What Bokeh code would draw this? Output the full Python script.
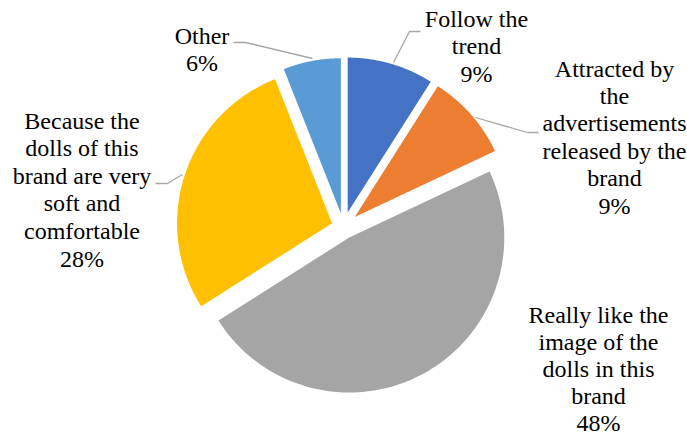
import numpy as np
from bokeh.plotting import figure
from bokeh.models import Range1d, ColumnDataSource
from bokeh.embed import file_html
from bokeh.resources import INLINE

# ---- data ----
categories = [
    "Follow the\ntrend",
    "Attracted by\nthe\nadvertisements\nreleased by the\nbrand",
    "Really like the\nimage of the\ndolls in this\nbrand",
    "Because the\ndolls of this\nbrand are very\nsoft and\ncomfortable",
    "Other",
]
percent_values = [9, 9, 48, 28, 6]
colors = ["#4472C4", "#ED7D31", "#A5A5A5", "#FFC000", "#5B9BD5"]

# ---- layout (pixels) ----
W, H = 687, 436
CX, CY = 343.0, 226.5
R = 155.0
explode = [15, 15, 12, 12, 14]
FONT_A = "Liberation Serif"
FONT_B = "serif"
SHIFT = 8  # renderer places the baseline about this far below the given y

# label anchors: (center x, first baseline y, line step)
label_pos = [(476, 26, 27.6), (614, 76, 27.4), (598, 322, 27.0), (81.5, 128, 27.6), (201.5, 43, 27.4)]
# leader lines
leaders_x = [[393, 409, 420], [475, 527, 538], [], [182, 167, 155], [312, 245, 233]]
leaders_y = [[62, 31, 31], [117, 132, 132], [], [174, 183, 183], [58, 42, 42]]

p = figure(width=W, height=H, output_backend="svg", toolbar_location=None,
           x_range=Range1d(0, W), y_range=Range1d(H, 0), min_border=0)
p.axis.visible = False
p.grid.visible = False
p.outline_line_color = None
p.background_fill_color = "white"
p.border_fill_color = "white"

vals = np.array(percent_values, dtype=float)
fr = vals / vals.sum()
ends = np.cumsum(fr) * 2 * np.pi
starts = ends - fr * 2 * np.pi

xs, ys = [], []
for s, e, d in zip(starts, ends, explode):
    mid = (s + e) / 2
    cx = CX + d * np.sin(mid)
    cy = CY - d * np.cos(mid)
    th = np.linspace(s, e, 120)
    xs.append(np.concatenate([[cx], cx + R * np.sin(th)]).tolist())
    ys.append(np.concatenate([[cy], cy - R * np.cos(th)]).tolist())

p.patches(xs=xs, ys=ys, fill_color=colors, line_color=None)
p.multi_line(xs=[a for a in leaders_x if a], ys=[b for b in leaders_y if b],
             line_color="#A6A6A6", line_width=1.3)

tx, ty, tt, tf = [], [], [], []
for cat, v, (x0, y0, step) in zip(categories, percent_values, label_pos):
    lines = cat.split("\n") + [f"{v}%"]
    for i, ln in enumerate(lines):
        tx.append(x0)
        ty.append(y0 + i * step - SHIFT)
        tt.append(ln)
        tf.append(FONT_A if i % 2 == 0 else FONT_B)

src = ColumnDataSource(dict(x=tx, y=ty, text=tt, font=tf))
p.text(x="x", y="y", text="text", source=src, text_align="center",
       text_baseline="alphabetic", text_font="font",
       text_font_size="24px", text_color="#000000")

open("out.html", "w").write(file_html(p, INLINE))
